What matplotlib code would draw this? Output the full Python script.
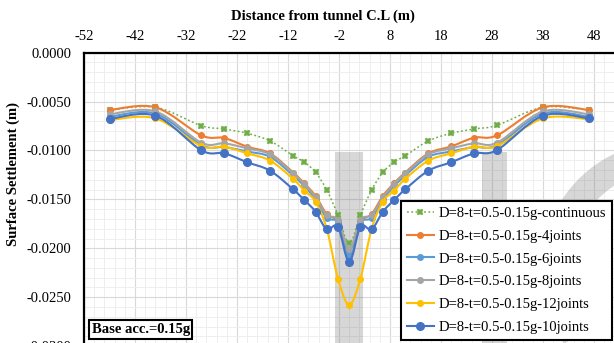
import numpy as np
import matplotlib
matplotlib.use("Agg")
import matplotlib.pyplot as plt
from matplotlib.path import Path
from matplotlib.patches import PathPatch, Rectangle, Arc
from matplotlib.lines import Line2D
from matplotlib.ticker import MultipleLocator, FixedLocator, FuncFormatter

plt.rcParams['font.family'] = ['Liberation Serif', 'DejaVu Serif']
plt.rcParams['axes.unicode_minus'] = False

# Distance from tunnel centre line (m)
distance = [-47, -38, -29, -24.5, -20, -15.5, -11, -8.8, -6.6, -4.4, -2.2, 0,
            2.2, 4.4, 6.6, 8.8, 11, 15.5, 20, 24.5, 29, 38, 47]

# Surface settlement (m), one list per lining case
continuous = [-0.00586, -0.00558, -0.00746, -0.00780, -0.00824, -0.00903, -0.01053, -0.01120,
              -0.01223, -0.01404, -0.01660, -0.01950,
              -0.01660, -0.01404, -0.01223, -0.01120, -0.01053, -0.00903, -0.00824, -0.00780,
              -0.00742, -0.00558, -0.00586]
joints4 = [-0.00586, -0.00558, -0.00845, -0.00872, -0.00961, -0.01030, -0.01225, -0.01335,
           -0.01465, -0.01650, -0.01730, -0.02030,
           -0.01730, -0.01650, -0.01465, -0.01335, -0.01225, -0.01030, -0.00958, -0.00869,
           -0.00845, -0.00558, -0.00586]
joints6 = [-0.00655, -0.00622, -0.00945, -0.00965, -0.01010, -0.01065, -0.01255, -0.01365,
           -0.01500, -0.01690, -0.01740, -0.02070,
           -0.01740, -0.01690, -0.01500, -0.01365, -0.01255, -0.01065, -0.01010, -0.00965,
           -0.00945, -0.00622, -0.00655]
joints8 = [-0.00630, -0.00600, -0.00920, -0.00927, -0.00978, -0.01040, -0.01233, -0.01343,
           -0.01479, -0.01660, -0.01710, -0.02010,
           -0.01710, -0.01660, -0.01479, -0.01343, -0.01233, -0.01040, -0.00978, -0.00927,
           -0.00920, -0.00600, -0.00630]
joints12 = [-0.00688, -0.00671, -0.00954, -0.00961, -0.01029, -0.01104, -0.01290, -0.01410,
            -0.01523, -0.01800, -0.02310, -0.02580,
            -0.02310, -0.01800, -0.01523, -0.01410, -0.01290, -0.01104, -0.01029, -0.00961,
            -0.00954, -0.00671, -0.00680]
joints10 = [-0.00678, -0.00644, -0.00998, -0.01029, -0.01120, -0.01207, -0.01397, -0.01506,
            -0.01626, -0.01806, -0.01780, -0.02140,
            -0.01780, -0.01806, -0.01626, -0.01506, -0.01397, -0.01207, -0.01120, -0.01029,
            -0.00995, -0.00644, -0.00671]

series = [
    ("D=8-t=0.5-0.15g-continuous", continuous, "#70AD47"),
    ("D=8-t=0.5-0.15g-4joints", joints4, "#ED7D31"),
    ("D=8-t=0.5-0.15g-6joints", joints6, "#5B9BD5"),
    ("D=8-t=0.5-0.15g-8joints", joints8, "#A5A5A5"),
    ("D=8-t=0.5-0.15g-12joints", joints12, "#FFC000"),
    ("D=8-t=0.5-0.15g-10joints", joints10, "#4472C4"),
]

x_ticks = [-52, -42, -32, -22, -12, -2, 8, 18, 28, 38, 48]


def smooth_path(xs, ys):
    """Cubic Bezier path through the points (Catmull-Rom style smoothing)."""
    pts = np.column_stack([xs, ys]).astype(float)
    n = len(pts)
    verts = [pts[0]]
    codes = [Path.MOVETO]
    for i in range(n - 1):
        p0 = pts[i - 1] if i > 0 else pts[i]
        p1 = pts[i]
        p2 = pts[i + 1]
        p3 = pts[i + 2] if i + 2 < n else pts[i + 1]
        c1 = p1 + (p2 - p0) / 6.0
        c2 = p2 - (p3 - p1) / 6.0
        verts += [c1, c2, p2]
        codes += [Path.CURVE4] * 3
    return Path(verts, codes)


W, H = 614, 343
fig = plt.figure(figsize=(W / 100, H / 100), dpi=100)

# Plot area in pixel units: x=-52 at 84 px, 10 m = 51 px; y=0 at 52.7 px, 0.005 m = 48.9 px
left_px, top_px = 84, 52.7
x_min, x_max = -52, 58
y_min, y_max = -0.030, 0.0
ax_w = (x_max - x_min) / 10 * 51
ax_h = (y_max - y_min) / 0.005 * 48.9
ax = fig.add_axes([left_px / W, (H - top_px - ax_h) / H, ax_w / W, ax_h / H])
ax.set_xlim(x_min, x_max)
ax.set_ylim(y_min, y_max)

ax.xaxis.set_major_locator(FixedLocator(x_ticks))
ax.xaxis.set_minor_locator(MultipleLocator(2))
ax.yaxis.set_major_locator(MultipleLocator(0.005))
ax.yaxis.set_minor_locator(MultipleLocator(0.001))
ax.yaxis.set_major_formatter(FuncFormatter(lambda v, p: f"{v:.4f}"))
ax.xaxis.tick_top()
ax.tick_params(axis='both', which='both', length=0, labelsize=10.5)
ax.tick_params(axis='x', pad=7)
ax.tick_params(axis='y', pad=9)

ax.grid(which='major', color='#d9d9d9', linewidth=0.8, zorder=0)
ax.grid(which='minor', color='#eeeeee', linewidth=0.7, zorder=0)
ax.set_axisbelow(True)
for side in ('right', 'bottom'):
    ax.spines[side].set_visible(False)
ax.spines['top'].set_linewidth(1.6)
ax.spines['left'].set_linewidth(1.6)

# Light grey watermark lettering behind the curves (pixel coordinates)
wm_col = '#707070'
ax.add_patch(Rectangle((335, 0), 28, H - 152, facecolor=wm_col, edgecolor='none',
                       alpha=0.28, zorder=1, transform=None))
ax.add_patch(Rectangle((482, 0), 25, H - 152, facecolor=wm_col, edgecolor='none',
                       alpha=0.28, zorder=1, transform=None))
ax.add_patch(Arc((670, H - 270), 230, 230, theta1=90, theta2=215, linewidth=20,
                 edgecolor=wm_col, alpha=0.28, zorder=1, transform=None))

handles = []
for k, (label, vals, color) in enumerate(series):
    if label.endswith("continuous"):
        ax.add_patch(PathPatch(smooth_path(distance, vals), fill=False, edgecolor=color,
                               linewidth=1.1, linestyle=(0, (1.2, 1.6)), zorder=2))
        ax.plot(distance, vals, linestyle='none', marker='X', markersize=4.5,
                color=color, markeredgewidth=0.3, zorder=2.1)
        handles.append(Line2D([], [], color=color, linewidth=1.1, linestyle=(0, (1.2, 1.6)),
                              marker='X', markersize=4.5, markeredgewidth=0.3))
    else:
        ms = 5.5 if label.endswith("10joints") else 4.0
        ax.add_patch(PathPatch(smooth_path(distance, vals), fill=False, edgecolor=color,
                               linewidth=1.5, zorder=3 + k * 0.1))
        ax.plot(distance, vals, linestyle='none', marker='o', markersize=ms,
                color=color, zorder=3.05 + k * 0.1)
        handles.append(Line2D([], [], color=color, linewidth=1.5, marker='o', markersize=ms))

labels = [s[0] for s in series]
leg = fig.legend(handles, labels, loc='upper left',
                 bbox_to_anchor=(401 / W, (H - 201) / H), bbox_transform=fig.transFigure,
                 fontsize=10.5, frameon=True, fancybox=False, borderpad=0.38,
                 labelspacing=0.665, handlelength=1.85, handletextpad=0.35,
                 borderaxespad=0)
leg.set_zorder(10)
leg.get_frame().set_edgecolor('black')
leg.get_frame().set_linewidth(1.5)
leg.get_frame().set_facecolor('white')
leg.get_frame().set_alpha(1)

fig.text(322.7 / W, (H - 20) / H, "Distance from tunnel C.L (m)", ha='center',
         va='baseline', fontsize=10.5, fontweight='bold')
fig.text(13.5 / W, (H - 174) / H, "Surface Settlement (m)", ha='center', va='center',
         rotation=90, fontsize=10.5, fontweight='bold')
fig.text(91.5 / W, (H - 333) / H, "Base acc.=0.15g", ha='left', va='baseline',
         fontsize=10.5, fontweight='bold',
         bbox=dict(boxstyle='square,pad=0.18', facecolor='white', edgecolor='black',
                   linewidth=1.5))

fig.savefig("out.png", dpi=100)
